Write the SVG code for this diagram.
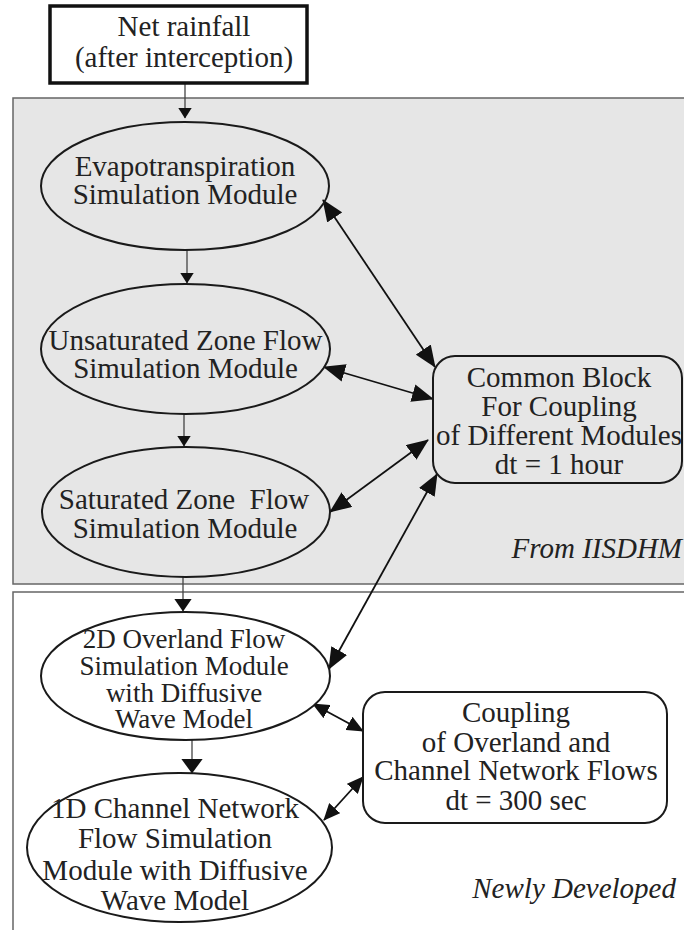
<svg xmlns="http://www.w3.org/2000/svg" width="684" height="930" viewBox="0 0 684 930">
<style>
text{font-family:"Liberation Serif","Times New Roman",serif;font-size:29px;fill:#222;text-anchor:middle}
.it{font-style:italic;text-anchor:end}
.t28{font-size:27px}
.ell{stroke:#1a1a1a;stroke-width:2}
.box{stroke:#1a1a1a;stroke-width:2}
.v{stroke:#444;stroke-width:1.3;fill:none}
.b{stroke:#111;stroke-width:1.8;fill:none}
</style>
<defs>
<marker id="big" markerUnits="userSpaceOnUse" viewBox="0 0 22 18" markerWidth="22" markerHeight="18" refX="21" refY="9" orient="auto-start-reverse"><path d="M0,0 L22,9 L0,18 z" fill="#111"/></marker>
<marker id="med" markerUnits="userSpaceOnUse" viewBox="0 0 17 15" markerWidth="17" markerHeight="15" refX="16" refY="7.5" orient="auto-start-reverse"><path d="M0,0 L17,7.5 L0,15 z" fill="#111"/></marker>
<marker id="sm" markerUnits="userSpaceOnUse" viewBox="0 0 11 14" markerWidth="11" markerHeight="14" refX="10.5" refY="7" orient="auto"><path d="M0,0 L11,7 L0,14 z" fill="#111"/></marker>
<marker id="sm2" markerUnits="userSpaceOnUse" viewBox="0 0 13 18" markerWidth="13" markerHeight="18" refX="12.5" refY="9" orient="auto"><path d="M0,0 L13,9 L0,18 z" fill="#111"/></marker>
<marker id="sm3" markerUnits="userSpaceOnUse" viewBox="0 0 15 22" markerWidth="15" markerHeight="22" refX="14.5" refY="11" orient="auto"><path d="M0,0 L15,11 L0,22 z" fill="#111"/></marker>
</defs>
<rect width="684" height="930" fill="#fff"/>
<g id="panel-iisdhm">
<rect x="13" y="98" width="690" height="486" fill="#e6e6e6" stroke="#666" stroke-width="1.5"/>
<text class="it" x="682" y="558">From IISDHM</text>
</g>
<g id="panel-new">
<rect x="13" y="592" width="690" height="360" fill="#fff" stroke="#666" stroke-width="1.5"/>
<text class="it" x="676" y="898">Newly Developed</text>
</g>
<g id="connectors">
<line class="v" x1="185" y1="84" x2="185" y2="118" marker-end="url(#sm)"/>
<line class="v" x1="187" y1="250" x2="187" y2="283" marker-end="url(#sm)"/>
<line class="v" x1="184" y1="414" x2="184" y2="446" marker-end="url(#sm)"/>
<line class="v" x1="183" y1="577" x2="183" y2="611" marker-end="url(#sm2)"/>
<line class="v" x1="192" y1="740" x2="192" y2="773" marker-end="url(#sm3)"/>
<line class="b" x1="323" y1="200" x2="435" y2="367" marker-start="url(#big)" marker-end="url(#big)"/>
<line class="b" x1="324" y1="367" x2="433" y2="399" marker-start="url(#big)" marker-end="url(#big)"/>
<line class="b" x1="330" y1="512" x2="428" y2="440" marker-start="url(#big)" marker-end="url(#big)"/>
<line class="b" x1="329" y1="669" x2="437" y2="474" marker-start="url(#big)" marker-end="url(#big)"/>
<line class="b" x1="313" y1="704" x2="363" y2="731" marker-start="url(#med)" marker-end="url(#med)"/>
<line class="b" x1="324" y1="820" x2="363" y2="777" marker-start="url(#med)" marker-end="url(#med)"/>
</g>
<g id="net-rainfall">
<rect x="50" y="6" width="257" height="77" fill="#fff" stroke="#111" stroke-width="3.5"/>
<text x="184" y="36">Net rainfall</text>
<text x="184" y="67">(after interception)</text>
</g>
<g id="evapotranspiration">
<ellipse class="ell" cx="185" cy="186" rx="144" ry="64" fill="none"/>
<text x="185" y="176">Evapotranspiration</text>
<text x="185" y="204">Simulation Module</text>
</g>
<g id="unsaturated">
<ellipse class="ell" cx="185.5" cy="349" rx="144.5" ry="65" fill="none"/>
<text x="185.5" y="350">Unsaturated Zone Flow</text>
<text x="185.5" y="378">Simulation Module</text>
</g>
<g id="saturated">
<ellipse class="ell" cx="186" cy="512" rx="144" ry="65" fill="none"/>
<text x="184" y="509" xml:space="preserve">Saturated Zone  Flow</text>
<text x="185" y="538">Simulation Module</text>
</g>
<g id="common-block">
<rect class="box" x="433" y="356" width="249" height="127" rx="22" fill="#e6e6e6"/>
<text x="559" y="387">Common Block</text>
<text x="559" y="416">For Coupling</text>
<text x="559" y="445">of Different Modules</text>
<text x="559" y="474">dt = 1 hour</text>
</g>
<g id="overland">
<ellipse class="ell" cx="185.5" cy="676" rx="144.5" ry="64" fill="#fff"/>
<text class="t28" x="184" y="648">2D Overland Flow</text>
<text class="t28" x="184" y="675">Simulation Module</text>
<text class="t28" x="184" y="702">with Diffusive</text>
<text class="t28" x="184" y="728">Wave Model</text>
</g>
<g id="channel">
<ellipse class="ell" cx="179.5" cy="847.5" rx="152.5" ry="74.5" fill="#fff"/>
<text x="175" y="818">1D Channel Network</text>
<text x="175" y="848">Flow Simulation</text>
<text x="175" y="880">Module with Diffusive</text>
<text x="175" y="910">Wave Model</text>
</g>
<g id="coupling">
<rect class="box" x="363" y="692" width="304" height="131" rx="22" fill="#fff"/>
<text x="516" y="722">Coupling</text>
<text x="516" y="752">of Overland and</text>
<text x="516" y="780">Channel Network Flows</text>
<text x="516" y="810">dt = 300 sec</text>
</g>
</svg>
